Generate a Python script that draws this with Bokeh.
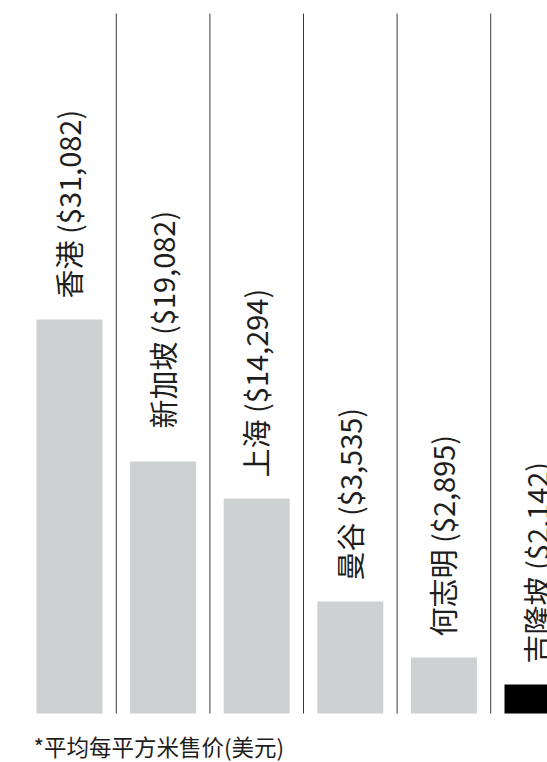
import math
from bokeh.plotting import figure
from bokeh.models import Range1d, ColumnDataSource
from bokeh.core.properties import value
from bokeh.embed import file_html
from bokeh.resources import INLINE

# ---- data ----
cities = ["香港", "新加坡", "上海", "曼谷", "何志明", "吉隆坡"]
prices = [31082, 19082, 14294, 3535, 2895, 2142]          # USD per m², as labelled
bar_height = [394, 252, 215, 112, 56, 29]                 # drawn bar length (infographic, not to scale)
highlight = "吉隆坡"
footnote = "*平均每平方米售价(美元)"

# ---- style / layout ----
W, H = 547, 762
SLOT = 93.6          # px per category slot
FIRST = 69.0         # px of first bar centre from left edge
BASE = 713.0         # px of baseline from top
BAR_W = 0.705
GAP = 21             # label offset above bar
EXTRA_GAP = {"新加坡": 12}
LABEL_FONT = value("Noto Sans CJK SC")
BAR_GREY = "#cdd1d2"

x_start = -FIRST / SLOT
x_end = x_start + W / SLOT
y_end = BASE
y_start = BASE - H

p = figure(width=W, height=H, output_backend="svg", toolbar_location=None,
           x_range=Range1d(x_start, x_end), y_range=Range1d(y_start, y_end),
           min_border=0, outline_line_color=None, background_fill_color="white",
           border_fill_color="white")
p.axis.visible = False
p.grid.visible = False

idx = list(range(len(cities)))
colors = ["#000000" if c == highlight else BAR_GREY for c in cities]
labels = [f"{c} (${v:,})" for c, v in zip(cities, prices)]
lx = [i - 1.5 / SLOT for i in idx]
ly = [h + GAP + EXTRA_GAP.get(c, 0) for h, c in zip(bar_height, cities)]

src = ColumnDataSource(dict(x=idx, top=bar_height, color=colors, label=labels, ly=ly, lx=lx))

p.vbar(x="x", top="top", bottom=0, width=BAR_W, fill_color="color", line_color=None, source=src)

# separators between categories
sep_x = [i + 0.5 for i in idx[:-1]]
p.segment(x0=sep_x, x1=sep_x, y0=[0] * len(sep_x), y1=[BASE - 13] * len(sep_x),
          line_color="#3a3a3a", line_width=1)

p.text(x="lx", y="ly", text="label", source=src, angle=math.pi / 2,
       text_align="left", text_baseline="middle", text_font=LABEL_FONT,
       text_font_size="29px", text_color="#1e1e1e")

p.text(x=[(33 - FIRST) / SLOT], y=[BASE - 745], text=[footnote], text_align="left",
       text_baseline="middle", text_font=value("Noto Sans CJK SC"),
       text_font_size="22.5px", text_color="#1e1e1e")

open("out.html", "w").write(file_html(p, INLINE))
